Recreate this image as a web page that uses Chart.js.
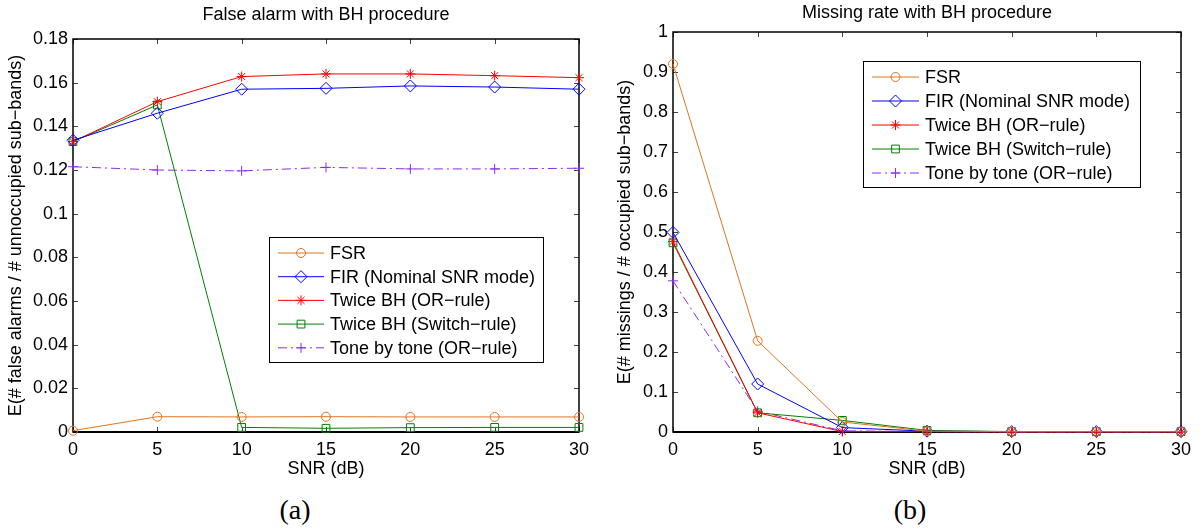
<!DOCTYPE html>
<html lang="en">
<head>
<meta charset="UTF-8">
<title>BH procedure</title>
<script src="https://cdn.jsdelivr.net/npm/chart.js"></script>
<style>
    body {
        margin: 0;
        background: #fff;
        width: 1203px;
        height: 532px;
        overflow: hidden;
        position: relative;
    }
    .panel {
        position: absolute;
        top: 0;
        height: 480px;
    }
    #left { left: 0; width: 600px; }
    #right { left: 600px; width: 603px; }
    .caption {
        position: absolute;
        top: 494px;
        width: 60px;
        text-align: center;
        font-family: "Liberation Serif", "DejaVu Serif", serif;
        font-size: 28px;
        color: #000;
    }
</style>
</head>
<body>
<div class="panel" id="left"><canvas id="chartA" width="600" height="480"></canvas></div>
<div class="panel" id="right"><canvas id="chartB" width="603" height="480"></canvas></div>
<div class="caption" style="left:265px">(a)</div>
<div class="caption" style="left:880px">(b)</div>
<script>
    const snr = [0, 5, 10, 15, 20, 25, 30];
    const names = ['FSR', 'FIR (Nominal SNR mode)', 'Twice BH (OR\u2212rule)', 'Twice BH (Switch\u2212rule)', 'Tone by tone (OR\u2212rule)'];

    // (a) false alarm
    const faFSR    = [0.0006, 0.0070, 0.0069, 0.0070, 0.0069, 0.0069, 0.0069];
    const faFIR    = [0.1336, 0.1460, 0.1570, 0.1574, 0.1585, 0.1580, 0.1570];
    const faOR     = [0.1330, 0.1513, 0.1628, 0.1640, 0.1640, 0.1632, 0.1623];
    const faSwitch = [0.1330, 0.1498, 0.0021, 0.0017, 0.0020, 0.0021, 0.0021];
    const faTone   = [0.1215, 0.1200, 0.1196, 0.1212, 0.1205, 0.1205, 0.1208];

    // (b) missing rate
    const mrFSR    = [0.920, 0.228, 0.025, 0.002, 0.001, 0.001, 0.001];
    const mrFIR    = [0.499, 0.120, 0.011, 0.002, 0.001, 0.001, 0.001];
    const mrOR     = [0.476, 0.048, 0.001, 0.001, 0.000, 0.000, 0.000];
    const mrSwitch = [0.473, 0.048, 0.029, 0.004, 0.001, 0.001, 0.001];
    const mrTone   = [0.378, 0.052, 0.003, 0.001, 0.000, 0.000, 0.000];

    const faTicks = [0, 0.02, 0.04, 0.06, 0.08, 0.1, 0.12, 0.14, 0.16, 0.18];
    const mrTicks = [0, 0.1, 0.2, 0.3, 0.4, 0.5, 0.6, 0.7, 0.8, 0.9, 1];

    const looks = [
        { color: '#dc7620', pointStyle: 'circle',  radius: 4.5, dash: [] },
        { color: '#0000ff', pointStyle: 'rectRot', radius: 6,   dash: [] },
        { color: '#ff0000', pointStyle: 'star',    radius: 5,   dash: [] },
        { color: '#008000', pointStyle: 'rect',    radius: 5.5, dash: [] },
        { color: '#8a2ef0', pointStyle: 'cross',   radius: 5,   dash: [9, 4, 2, 4] }
    ];

    const font = '"Liberation Sans", Arial, sans-serif';

    function makeSets(lists) {
        return lists.map((vals, i) => ({
            label: names[i],
            data: vals.map((v, k) => ({ x: snr[k], y: v })),
            borderColor: looks[i].color,
            borderWidth: 1,
            borderDash: looks[i].dash,
            pointStyle: looks[i].pointStyle,
            pointRadius: looks[i].radius,
            pointBorderColor: looks[i].color,
            pointBackgroundColor: 'rgba(0,0,0,0)',
            pointBorderWidth: 1,
            tension: 0,
            fill: false,
            clip: false
        }));
    }

    // box + MATLAB style inner ticks
    const frame = {
        id: 'frame',
        beforeDatasetsDraw(chart) {
            const { ctx, chartArea: a, scales } = chart;
            ctx.save();
            ctx.strokeStyle = '#444';
            ctx.lineWidth = 1;
            ctx.beginPath();
            scales.x.ticks.forEach(t => {
                const px = Math.round(scales.x.getPixelForValue(t.value)) + 0.5;
                ctx.moveTo(px, a.bottom); ctx.lineTo(px, a.bottom - 5);
                ctx.moveTo(px, a.top); ctx.lineTo(px, a.top + 5);
            });
            scales.y.ticks.forEach(t => {
                const py = Math.round(scales.y.getPixelForValue(t.value)) + 0.5;
                ctx.moveTo(a.left, py); ctx.lineTo(a.left + 5, py);
                ctx.moveTo(a.right, py); ctx.lineTo(a.right - 5, py);
            });
            ctx.stroke();
            ctx.strokeStyle = '#000';
            ctx.lineWidth = 1.5;
            ctx.strokeRect(a.left, a.top, a.right - a.left, a.bottom - a.top);
            ctx.lineWidth = 2;
            ctx.beginPath();
            ctx.moveTo(a.left, a.bottom);
            ctx.lineTo(a.right, a.bottom);
            ctx.stroke();
            ctx.restore();
        }
    };

    // legend box drawn inside the axes
    const boxLegend = {
        id: 'boxLegend',
        afterDatasetsDraw(chart, args, opts) {
            const ctx = chart.ctx;
            ctx.save();
            ctx.fillStyle = '#fff';
            ctx.fillRect(opts.x, opts.y, opts.w, opts.h);
            ctx.strokeStyle = '#000';
            ctx.lineWidth = 1;
            ctx.strokeRect(opts.x + 0.5, opts.y + 0.5, opts.w, opts.h);
            ctx.font = '18px ' + font;
            ctx.textBaseline = 'middle';
            chart.data.datasets.forEach((ds, i) => {
                const cy = opts.firstRow + i * opts.rowH;
                ctx.strokeStyle = ds.borderColor;
                ctx.lineWidth = 1;
                ctx.setLineDash(ds.borderDash);
                ctx.beginPath();
                ctx.moveTo(opts.lineX0, cy);
                ctx.lineTo(opts.lineX1, cy);
                ctx.stroke();
                ctx.setLineDash([]);
                ctx.fillStyle = 'rgba(0,0,0,0)';
                Chart.helpers.drawPoint(ctx, {
                    pointStyle: ds.pointStyle, radius: ds.pointRadius, rotation: 0, borderWidth: 1
                }, (opts.lineX0 + opts.lineX1) / 2, cy);
                ctx.fillStyle = '#000';
                ctx.fillText(ds.label, opts.textX, cy + 1);
            });
            ctx.restore();
        }
    };

    function makeChart(id, sets, title, yTitle, yTicks, yMax, pad, legendOpts) {
        return new Chart(document.getElementById(id), {
            type: 'line',
            data: { datasets: sets },
            plugins: [frame, boxLegend],
            options: {
                responsive: false,
                animation: false,
                devicePixelRatio: 1,
                layout: { padding: { left: 0, right: pad.right, top: 0, bottom: 0 } },
                plugins: {
                    legend: { display: false },
                    tooltip: { enabled: false },
                    title: {
                        display: true,
                        fullSize: false,
                        text: title,
                        color: '#000',
                        font: { family: font, size: 18, weight: 'normal' },
                        padding: { top: pad.titleTop, bottom: pad.titleBottom }
                    },
                    boxLegend: legendOpts
                },
                scales: {
                    x: {
                        type: 'linear',
                        min: 0,
                        max: 30,
                        grid: { display: false, drawTicks: false },
                        border: { display: false },
                        ticks: { stepSize: 5, color: '#000', padding: 7, font: { family: font, size: 18 } },
                        title: {
                            display: true,
                            text: 'SNR (dB)',
                            color: '#000',
                            font: { family: font, size: 18 },
                            padding: { top: 0, bottom: 0 }
                        },
                        afterFit: s => { s.height = 48; }
                    },
                    y: {
                        min: 0,
                        max: yMax,
                        grid: { display: false, drawTicks: false },
                        border: { display: false },
                        afterBuildTicks: s => { s.ticks = yTicks.map(v => ({ value: v })); },
                        ticks: {
                            color: '#000',
                            padding: 5,
                            font: { family: font, size: 18 },
                            callback: v => String(Number(v.toFixed(2)))
                        },
                        title: {
                            display: true,
                            text: yTitle,
                            color: '#000',
                            font: { family: font, size: 18 },
                            padding: { top: pad.yTitle, bottom: 0 }
                        },
                        afterFit: s => { s.width = 73; }
                    }
                }
            }
        });
    }

    makeChart('chartA',
        makeSets([faFSR, faFIR, faOR, faSwitch, faTone]),
        'False alarm with BH procedure',
        'E(# false alarms / # unnoccupied sub\u2212bands)',
        faTicks, 0.18,
        { right: 21, titleTop: 4, titleBottom: 13.4, yTitle: 5 },
        { x: 269, y: 237, w: 274, h: 125, firstRow: 253, rowH: 23.7, lineX0: 278, lineX1: 324, textX: 330 });

    makeChart('chartB',
        makeSets([mrFSR, mrFIR, mrOR, mrSwitch, mrTone]),
        'Missing rate with BH procedure',
        'E(# missings / # occupied sub\u2212bands)',
        mrTicks, 1,
        { right: 22, titleTop: 2, titleBottom: 8.4, yTitle: 14 },
        { x: 263, y: 61, w: 277, h: 126, firstRow: 77, rowH: 24, lineX0: 272, lineX1: 319, textX: 325 });
</script>
</body>
</html>
